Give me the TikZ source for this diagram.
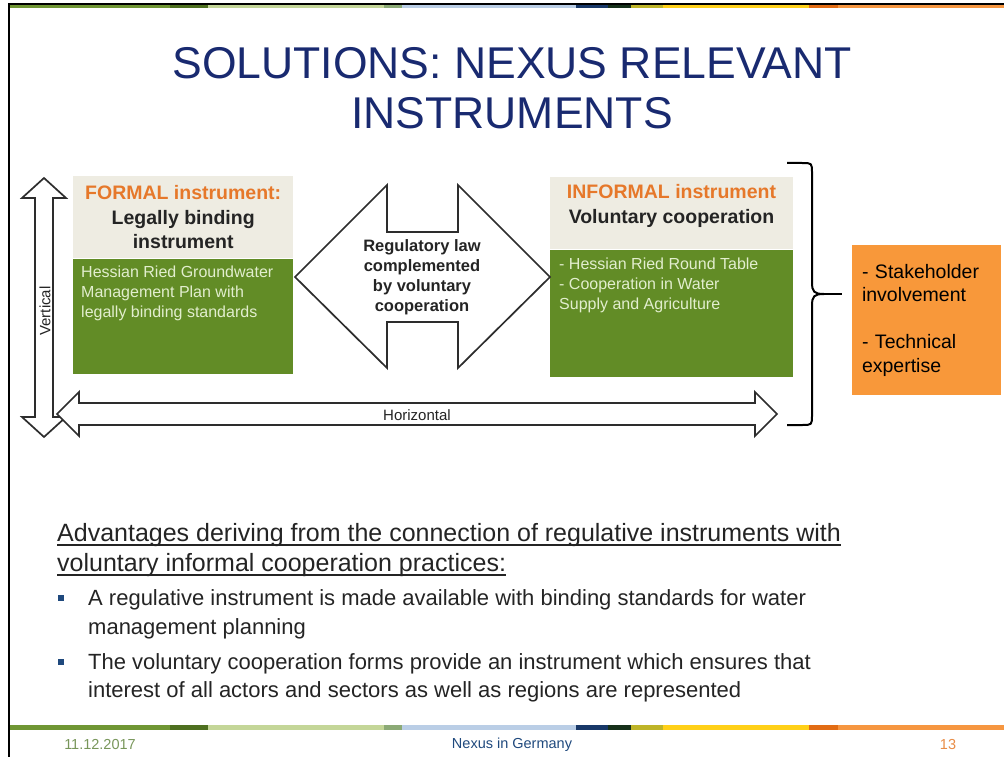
\documentclass[tikz,border=0pt]{standalone}
\usepackage{fontspec}
\setmainfont{Liberation Sans}
\usepackage{tikz}
\usetikzlibrary{positioning}

\newcommand{\fs}[2]{\fontsize{#1}{#2}\selectfont}

\definecolor{titleblue}{RGB}{25,42,112}
\definecolor{boxgrey}{RGB}{238,236,226}
\definecolor{boxgreen}{RGB}{98,140,38}
\definecolor{greentext}{RGB}{226,238,206}
\definecolor{headorange}{RGB}{230,120,42}
\definecolor{notebox}{RGB}{248,152,58}
\definecolor{textgrey}{RGB}{36,36,36}
\definecolor{outline}{RGB}{45,45,45}
\definecolor{bulletblue}{RGB}{31,73,125}
\definecolor{footgreen}{RGB}{120,150,90}
\definecolor{footorange}{RGB}{232,140,70}
% stripe colours
\definecolor{stripeA}{RGB}{112,150,52}
\definecolor{stripeB}{RGB}{78,112,32}
\definecolor{stripeC}{RGB}{196,214,152}
\definecolor{stripeD}{RGB}{140,170,118}
\definecolor{stripeE}{RGB}{186,206,230}
\definecolor{stripeF}{RGB}{24,56,104}
\definecolor{stripeG}{RGB}{22,48,26}
\definecolor{stripeH}{RGB}{190,180,40}
\definecolor{stripeI}{RGB}{255,208,24}
\definecolor{stripeJ}{RGB}{226,108,20}
\definecolor{stripeK}{RGB}{246,150,64}

\begin{document}
\begin{tikzpicture}[x=1pt,y=-1pt,
    blockarrow/.style={draw=outline, line width=1.7pt, fill=white, line join=miter},
    headbox/.style={fill=boxgrey, inner sep=0pt},
    bodybox/.style={fill=boxgreen, inner sep=0pt},
    headtext/.style={align=center, font=\bfseries\fs{19.5}{24.5}, text=textgrey},
    bodytext/.style={align=left, anchor=north west, inner sep=0pt, font=\fs{16}{20}, text=greentext},
    advtext/.style={anchor=base west, inner sep=0pt, font=\fs{25}{30}, text=textgrey},
    underlined/.style={line width=1.4pt, draw=textgrey},
    bullettext/.style={anchor=base west, inner sep=0pt, font=\fs{22}{28}, text=textgrey},
    bulletmark/.style={fill=bulletblue, minimum size=5.5pt, inner sep=0pt},
    foottext/.style={font=\fs{14.5}{16}},
  ]
  \useasboundingbox (0,0) rectangle (1004,757);

  % Frame lines
  \fill[black] (8,3) rectangle (1004,5);
  \fill[black] (8,3) rectangle (10,757);

  % Colour stripes, top and bottom
  \foreach \a/\b/\c in {10/170/stripeA, 170/208/stripeB, 208/384/stripeC,
      384/402/stripeD, 402/576/stripeE, 576/608/stripeF, 608/631/stripeG,
      631/663/stripeH, 663/809/stripeI, 809/838/stripeJ, 838/1004/stripeK}{
    \fill[\c] (\a,5) rectangle (\b,8);
    \fill[\c] (\a,725) rectangle (\b,730);
  }

  % Title
  \node[font=\fs{44.5}{50}, text=titleblue, align=center] (title) at (512,88)
    {SOLUTIONS: NEXUS RELEVANT\\INSTRUMENTS};

  % Vertical arrow
  \draw[blockarrow] (44,178) -- (66,198) -- (53,198) -- (53,417) -- (66,417)
    -- (44,437) -- (22,417) -- (35,417) -- (35,198) -- (22,198) -- cycle;
  \node[rotate=90, font=\fs{15}{18}, text=textgrey] (vert) at (45,311) {Vertical};

  % Horizontal arrow
  \draw[blockarrow] (57,414) -- (79,392) -- (79,403) -- (755,403) -- (755,392)
    -- (777,414) -- (755,436) -- (755,425) -- (79,425) -- (79,436) -- cycle;
  \node[font=\fs{15}{18}, text=textgrey] (horiz) at (417,415) {Horizontal};

  % Formal instrument
  \node[headbox, minimum width=220pt, minimum height=82pt, anchor=north west] (formalhead) at (73,176) {};
  \node[bodybox, minimum width=220pt, minimum height=115pt, below=0pt of formalhead] (formalbody) {};
  \node[headtext] (formaltitle) at (formalhead.center)
    {{\color{headorange}FORMAL instrument:}\\Legally binding\\instrument};
  \node[bodytext] (formalplan) at (81,266)
    {Hessian Ried Groundwater\\Management Plan with\\legally binding standards};

  % Informal instrument
  \node[headbox, minimum width=243pt, minimum height=72pt, anchor=north west] (informalhead) at (550,177) {};
  \node[bodybox, minimum width=243pt, minimum height=127pt, below=0pt of informalhead] (informalbody) {};
  \node[headtext] (informaltitle) at (671.5,206)
    {{\color{headorange}INFORMAL instrument}\\Voluntary cooperation};
  \node[bodytext] (informallist) at (559,258)
    {- Hessian Ried Round Table\\- Cooperation in Water\\Supply and Agriculture};

  % Link between both
  \draw[blockarrow] (295,277) -- (387,185) -- (387,232) -- (458,232) -- (458,185)
    -- (550,277) -- (458,368) -- (458,322) -- (387,322) -- (387,368) -- cycle;
  \node[align=center, font=\bfseries\fs{16.5}{20}, text=textgrey] (reglaw) at (422,277)
    {Regulatory law\\complemented\\by voluntary\\cooperation};

  % Outcome box and brace
  \node[fill=notebox, minimum width=149pt, minimum height=150pt, text width=129pt,
    inner xsep=10pt, align=left, font=\fs{19.5}{23.5}, text=black] (expert) at (926.5,320)
    {- Stakeholder\\involvement\\[23.5pt]- Technical\\expertise};
  \coordinate (bracetip) at (842,294);
  \draw[line width=2pt, line join=round] (787,163) -- (802,163) .. controls (812,163) .. (812,173)
    -- (812,282) .. controls (812,292) and (814,294) .. (824,294)
    .. controls (814,294) and (812,296) .. (812,306)
    -- (812,415) .. controls (812,425) .. (802,425) -- (787,425);
  \draw[line width=2pt] (822,294) -- (bracetip);

  % Advantages
  \node[advtext] (adv1) at (57,541)
    {Advantages deriving from the connection of regulative instruments with};
  \node[advtext] (adv2) at (57,571) {voluntary informal cooperation practices:};
  \draw[underlined] ([yshift=-4pt]adv1.base west) -- ([yshift=-4pt]adv1.base east);
  \draw[underlined] ([yshift=-4pt]adv2.base west) -- ([yshift=-4pt]adv2.base east);

  \node[bulletmark] (dot1) at (61,598) {};
  \node[bullettext] (pt1a) at (88,605) {A regulative instrument is made available with binding standards for water};
  \node[bullettext] (pt1b) at (88,634) {management planning};
  \node[bulletmark] (dot2) at (61,662) {};
  \node[bullettext] (pt2a) at (88,669) {The voluntary cooperation forms provide an instrument which ensures that};
  \node[bullettext] (pt2b) at (88,697) {interest of all actors and sectors as well as regions are represented};

  % Footer
  \node[foottext, text=footgreen] (date) at (100,745) {11.12.2017};
  \node[foottext, text=bulletblue] (event) at (512,745) {Nexus in Germany};
  \node[foottext, text=footorange] (page) at (948,745) {13};
\end{tikzpicture}
\end{document}
